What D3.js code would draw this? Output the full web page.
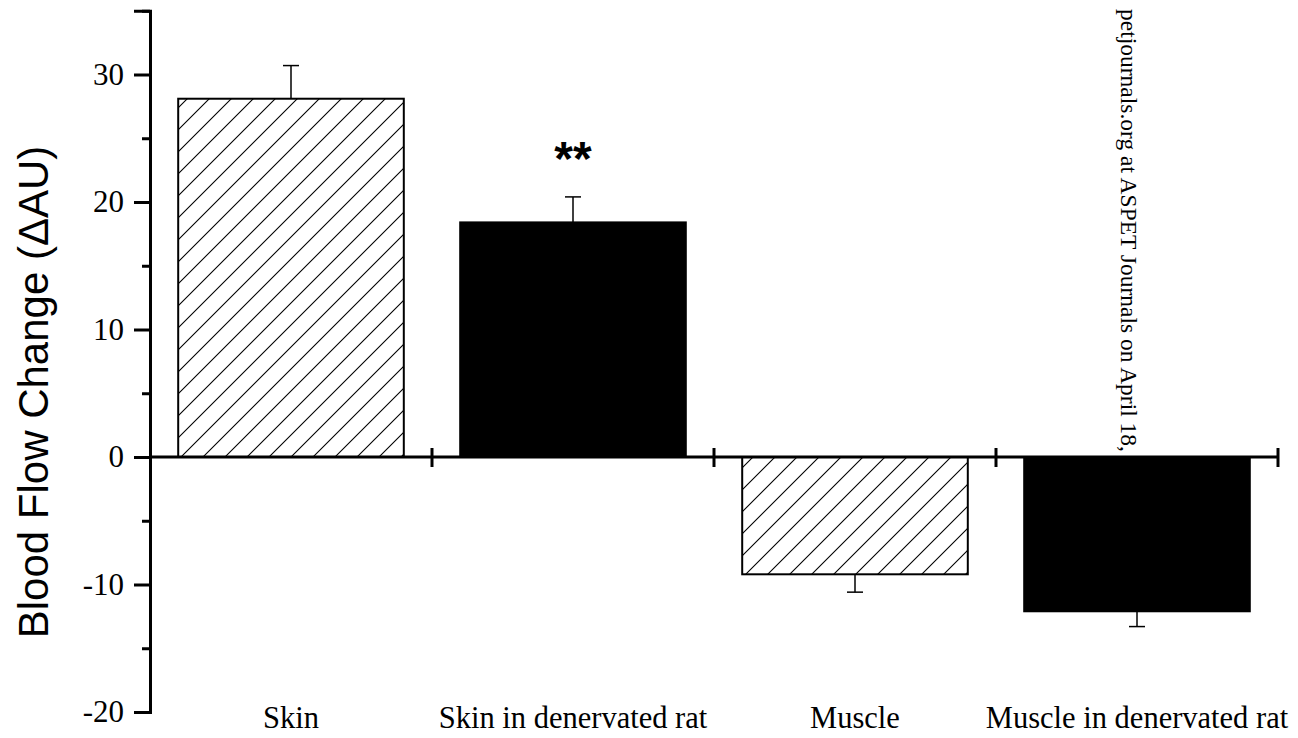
<!DOCTYPE html>
<html>
<head>
<meta charset="utf-8">
<script src="https://cdn.jsdelivr.net/npm/d3@7"></script>
<style>
  html, body { margin: 0; padding: 0; background: #fff; }
  svg { display: block; }
</style>
</head>
<body>
<svg id="chart" width="1298" height="738"></svg>
<script>
// ---- data ----
const categories = ["Skin", "Skin in denervated rat", "Muscle", "Muscle in denervated rat"];
const values = [28.1, 18.4, -9.2, -12.1];
const errors = [2.6, 2.0, 1.4, 1.2];
const fills = ["hatch", "solid", "hatch", "solid"];
const majorTicks = [-20, -10, 0, 10, 20, 30];
const minorTicks = [-15, -5, 5, 15, 25, 35];
const significance = ["", "**", "", ""];
const yTitle = "Blood Flow Change (\u0394AU)";
const watermark = "petjournals.org at ASPET Journals on April 18,";

(function () {
// ---- layout ----
const mLeft = 150, mRight = 1278, mTop = 10.75, mBottom = 712;
const svg = d3.select("#chart");
const serif = "'Liberation Serif', 'Times New Roman', serif";
const sans = "'Liberation Sans', Arial, sans-serif";

const x = d3.scaleBand().domain(categories).range([mLeft, mRight]).paddingInner(0.2).paddingOuter(0.1);
const y = d3.scaleLinear().domain([-20, 35]).range([mBottom, mTop]);

// hatch pattern
const defs = svg.append("defs");
const pat = defs.append("pattern").attr("id", "hatch").attr("patternUnits", "userSpaceOnUse")
  .attr("width", 22).attr("height", 22);
pat.append("path").attr("d", "M0,22 L22,0 M-5.5,5.5 L5.5,-5.5 M16.5,27.5 L27.5,16.5")
  .attr("stroke", "#000").attr("stroke-width", 1.1).attr("fill", "none");

// watermark (drawn first, bars cover the rest)
svg.append("text")
  .attr("transform", `translate(1121,452) rotate(90)`)
  .attr("text-anchor", "end")
  .style("font-family", serif).style("font-size", "23.5px").attr("fill", "#000")
  .text(watermark);

// bars
const data = categories.map((c, i) => ({ c, v: values[i], e: errors[i], f: fills[i], s: significance[i] }));
svg.append("g").selectAll("rect").data(data).join("rect")
  .attr("x", d => x(d.c))
  .attr("width", x.bandwidth())
  .attr("y", d => y(Math.max(0, d.v)))
  .attr("height", d => Math.abs(y(d.v) - y(0)))
  .attr("fill", d => d.f === "hatch" ? "url(#hatch)" : "#000")
  .attr("stroke", "#000").attr("stroke-width", 2);

// error bars (outer side only)
const eg = svg.append("g").attr("stroke", "#000").attr("stroke-width", 1.5);
data.forEach(d => {
  const cx = x(d.c) + x.bandwidth() / 2;
  const end = d.v >= 0 ? d.v + d.e : d.v - d.e;
  eg.append("line").attr("x1", cx).attr("x2", cx).attr("y1", y(d.v)).attr("y2", y(end));
  eg.append("line").attr("x1", cx - 8).attr("x2", cx + 8).attr("y1", y(end)).attr("y2", y(end));
});

// significance markers
svg.append("g").selectAll("text").data(data.filter(d => d.s)).join("text")
  .attr("x", d => x(d.c) + x.bandwidth() / 2)
  .attr("y", d => y(d.v + d.e) - 22)
  .attr("text-anchor", "middle")
  .style("font-family", sans).style("font-weight", "bold").style("font-size", "48px")
  .text(d => d.s);

// y axis
const yAxis = svg.append("g").attr("transform", `translate(${mLeft},0)`)
  .call(d3.axisLeft(y).tickValues(majorTicks).tickSize(16).tickPadding(10).tickFormat(d => String(d)));
yAxis.select(".domain").attr("stroke-width", 3);
yAxis.selectAll(".tick line").attr("stroke-width", 3);
yAxis.selectAll(".tick text").style("font-family", serif).style("font-size", "31px").attr("fill", "#000");

const yMinor = svg.append("g").attr("transform", `translate(${mLeft},0)`)
  .call(d3.axisLeft(y).tickValues(minorTicks).tickSize(8).tickFormat(""));
yMinor.select(".domain").remove();
yMinor.selectAll(".tick line").attr("stroke-width", 3);

// x axis at zero
const zeroY = y(0);
svg.append("line").attr("x1", mLeft).attr("x2", mRight).attr("y1", zeroY).attr("y2", zeroY)
  .attr("stroke", "#000").attr("stroke-width", 3);
const boundaries = categories.map(c => x(c) + x.bandwidth() + x.step() * x.paddingInner() / 2);
svg.append("g").selectAll("line").data(boundaries).join("line")
  .attr("x1", d => d).attr("x2", d => d)
  .attr("y1", zeroY - 9).attr("y2", zeroY + 10)
  .attr("stroke", "#000").attr("stroke-width", 3);

// category labels
svg.append("g").selectAll("text").data(categories).join("text")
  .attr("x", c => x(c) + x.bandwidth() / 2)
  .attr("y", 728)
  .attr("text-anchor", "middle")
  .style("font-family", serif).style("font-size", "30.5px")
  .text(c => c);

// y title
svg.append("text")
  .attr("transform", `translate(48,392) rotate(-90)`)
  .attr("text-anchor", "middle")
  .style("font-family", sans).style("font-size", "42px")
  .text(yTitle);
})();
</script>
</body>
</html>
